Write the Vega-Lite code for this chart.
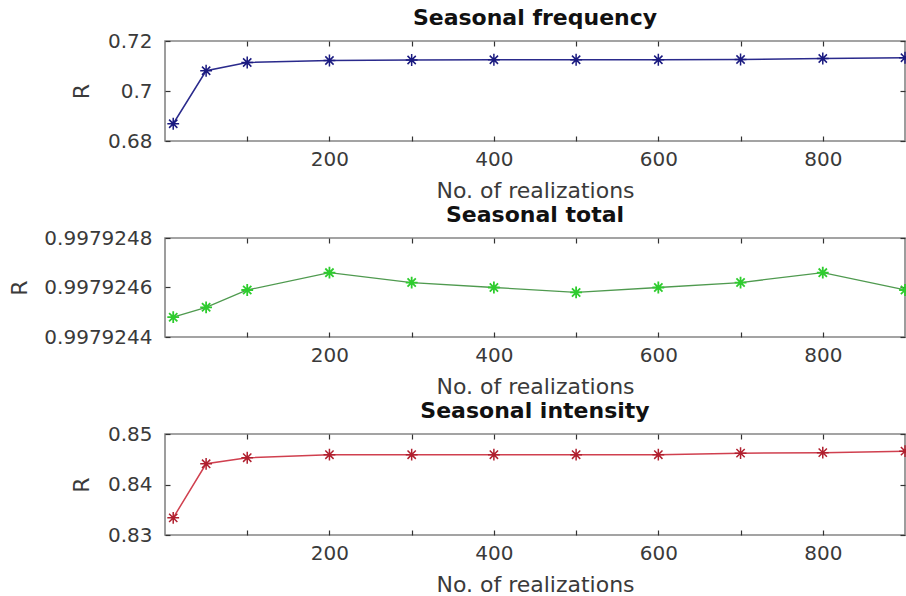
{
  "$schema": "https://vega.github.io/schema/vega-lite/v6.json",
  "padding": {"left": 8, "top": 6, "right": 0, "bottom": 0},
  "background": "white",
  "datasets": {
    "frequency": [
      {"n": 10, "R": 0.6869},
      {"n": 50, "R": 0.7081},
      {"n": 100, "R": 0.7114},
      {"n": 200, "R": 0.7122},
      {"n": 300, "R": 0.7124},
      {"n": 400, "R": 0.7125},
      {"n": 500, "R": 0.7125},
      {"n": 600, "R": 0.7125},
      {"n": 700, "R": 0.7126},
      {"n": 800, "R": 0.713},
      {"n": 900, "R": 0.7133}
    ],
    "total": [
      {"n": 10, "R": 0.99792448},
      {"n": 50, "R": 0.99792452},
      {"n": 100, "R": 0.99792459},
      {"n": 200, "R": 0.99792466},
      {"n": 300, "R": 0.99792462},
      {"n": 400, "R": 0.9979246},
      {"n": 500, "R": 0.99792458},
      {"n": 600, "R": 0.9979246},
      {"n": 700, "R": 0.99792462},
      {"n": 800, "R": 0.99792466},
      {"n": 900, "R": 0.99792459}
    ],
    "intensity": [
      {"n": 10, "R": 0.8334},
      {"n": 50, "R": 0.8441},
      {"n": 100, "R": 0.8453},
      {"n": 200, "R": 0.8459},
      {"n": 300, "R": 0.8459},
      {"n": 400, "R": 0.8459},
      {"n": 500, "R": 0.8459},
      {"n": 600, "R": 0.8459},
      {"n": 700, "R": 0.8462},
      {"n": 800, "R": 0.8463},
      {"n": 900, "R": 0.8466}
    ]
  },
  "config": {
    "font": "DejaVu Sans",
    "view": {"stroke": "#858585", "strokeWidth": 1.6},
    "concat": {"spacing": 97},
    "title": {"fontSize": 22, "fontWeight": "bold", "color": "#111111", "offset": 1, "anchor": "middle"},
    "axis": {
      "grid": false,
      "domain": false,
      "tickColor": "#333333",
      "tickWidth": 1.2,
      "tickSize": -5,
      "labelFontSize": 20,
      "labelColor": "#3a3a3a",
      "titleFontSize": 22,
      "titleFontWeight": "normal",
      "titleColor": "#3a3a3a"
    }
  },
  "vconcat": [
    {
      "width": 740,
      "height": 100,
      "title": "Seasonal frequency",
      "data": {"name": "frequency"},
      "layer": [
        {
          "mark": {"type": "line", "color": "#2a2a8c", "strokeWidth": 1.5},
          "encoding": {
            "x": {"field": "n", "type": "quantitative", "scale": {"domain": [0, 900], "nice": false},
              "axis": {"title": "No. of realizations", "values": [100, 200, 300, 400, 500, 600, 700, 800],
                "labelExpr": "datum.value % 200 == 0 ? datum.label : ''", "labelPadding": 13, "titlePadding": 11}},
            "y": {"field": "R", "type": "quantitative", "scale": {"domain": [0.68, 0.72], "nice": false, "zero": false},
              "axis": {"title": "R", "values": [0.68, 0.7, 0.72], "format": ".2~f", "labelPadding": 18, "titlePadding": 14}}
          }
        },
        {
          "mark": {"type": "point", "shape": "M-1,0L1,0M0,-1L0,1M-0.7,-0.7L0.7,0.7M-0.7,0.7L0.7,-0.7", "filled": false, "color": "#1a1a80", "strokeWidth": 1.5, "size": 140, "opacity": 1},
          "encoding": {
            "x": {"field": "n", "type": "quantitative", "axis": {"orient": "top", "labels": false, "title": null, "values": [100, 200, 300, 400, 500, 600, 700, 800]}},
            "y": {"field": "R", "type": "quantitative", "axis": {"orient": "right", "labels": false, "title": null, "values": [0.68, 0.7, 0.72]}}
          }
        }
      ],
      "resolve": {"axis": {"x": "independent", "y": "independent"}}
    },
    {
      "width": 740,
      "height": 99,
      "title": "Seasonal total",
      "data": {"name": "total"},
      "layer": [
        {
          "mark": {"type": "line", "color": "#4f9a4f", "strokeWidth": 1.3},
          "encoding": {
            "x": {"field": "n", "type": "quantitative", "scale": {"domain": [0, 900], "nice": false},
              "axis": {"title": "No. of realizations", "values": [100, 200, 300, 400, 500, 600, 700, 800],
                "labelExpr": "datum.value % 200 == 0 ? datum.label : ''", "labelPadding": 13, "titlePadding": 11}},
            "y": {"field": "R", "type": "quantitative", "scale": {"domain": [0.9979244, 0.9979248], "nice": false, "zero": false},
              "axis": {"title": "R", "values": [0.9979244, 0.9979246, 0.9979248], "format": ".7f", "labelPadding": 18, "titlePadding": 12}}
          }
        },
        {
          "mark": {"type": "point", "shape": "M-1,0L1,0M0,-1L0,1M-0.7,-0.7L0.7,0.7M-0.7,0.7L0.7,-0.7", "filled": false, "color": "#2ecc2e", "strokeWidth": 1.8, "size": 140, "opacity": 1},
          "encoding": {
            "x": {"field": "n", "type": "quantitative", "axis": {"orient": "top", "labels": false, "title": null, "values": [100, 200, 300, 400, 500, 600, 700, 800]}},
            "y": {"field": "R", "type": "quantitative", "axis": {"orient": "right", "labels": false, "title": null, "values": [0.9979244, 0.9979246, 0.9979248]}}
          }
        }
      ],
      "resolve": {"axis": {"x": "independent", "y": "independent"}}
    },
    {
      "width": 740,
      "height": 101,
      "title": "Seasonal intensity",
      "data": {"name": "intensity"},
      "layer": [
        {
          "mark": {"type": "line", "color": "#d0404f", "strokeWidth": 1.5},
          "encoding": {
            "x": {"field": "n", "type": "quantitative", "scale": {"domain": [0, 900], "nice": false},
              "axis": {"title": "No. of realizations", "values": [100, 200, 300, 400, 500, 600, 700, 800],
                "labelExpr": "datum.value % 200 == 0 ? datum.label : ''", "labelPadding": 13, "titlePadding": 11}},
            "y": {"field": "R", "type": "quantitative", "scale": {"domain": [0.83, 0.85], "nice": false, "zero": false},
              "axis": {"title": "R", "values": [0.83, 0.84, 0.85], "format": ".2f", "labelPadding": 18, "titlePadding": 14}}
          }
        },
        {
          "mark": {"type": "point", "shape": "M-1,0L1,0M0,-1L0,1M-0.7,-0.7L0.7,0.7M-0.7,0.7L0.7,-0.7", "filled": false, "color": "#b0202f", "strokeWidth": 1.5, "size": 140, "opacity": 1},
          "encoding": {
            "x": {"field": "n", "type": "quantitative", "axis": {"orient": "top", "labels": false, "title": null, "values": [100, 200, 300, 400, 500, 600, 700, 800]}},
            "y": {"field": "R", "type": "quantitative", "axis": {"orient": "right", "labels": false, "title": null, "values": [0.83, 0.84, 0.85]}}
          }
        }
      ],
      "resolve": {"axis": {"x": "independent", "y": "independent"}}
    }
  ],
  "resolve": {"axis": {"x": "independent"}},
  "bounds": "flush"
}
